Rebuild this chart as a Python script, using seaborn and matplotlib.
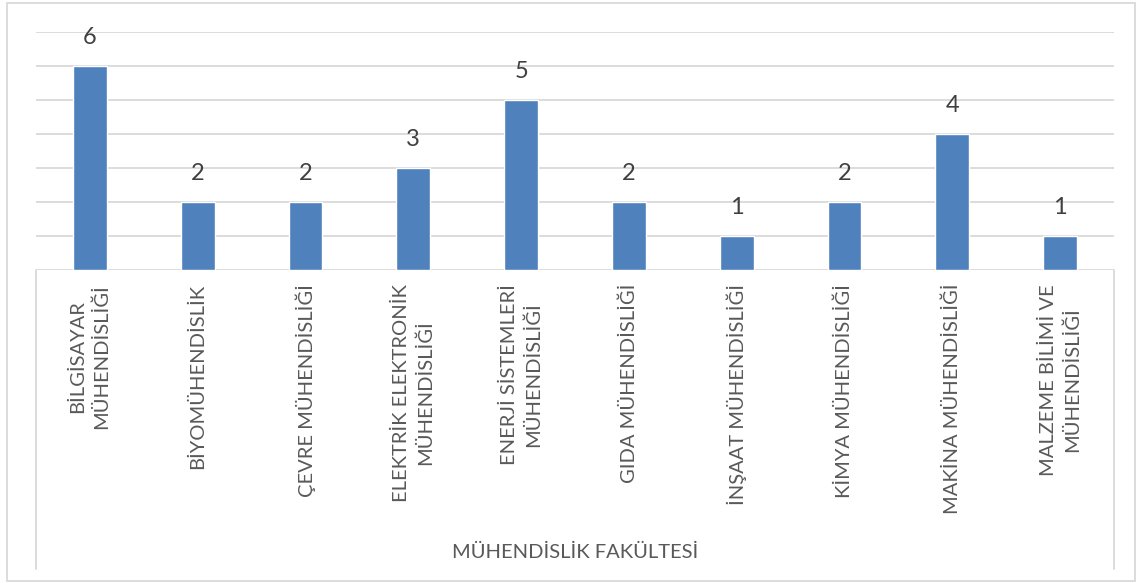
import numpy as np
import pandas as pd
import seaborn as sns
import matplotlib.pyplot as plt
from matplotlib.patches import Rectangle
from matplotlib.lines import Line2D

# data
categories = ['BİLGİSAYAR\nMÜHENDİSLİĞİ', 'BİYOMÜHENDİSLİK', 'ÇEVRE MÜHENDİSLİĞİ',
              'ELEKTRİK ELEKTRONİK\nMÜHENDİSLİĞİ', 'ENERJİ SİSTEMLERİ\nMÜHENDİSLİĞİ',
              'GIDA MÜHENDİSLİĞİ', 'İNŞAAT MÜHENDİSLİĞİ', 'KİMYA MÜHENDİSLİĞİ',
              'MAKİNA MÜHENDİSLİĞİ', 'MALZEME BİLİMİ VE\nMÜHENDİSLİĞİ']
counts = [6, 2, 2, 3, 5, 2, 1, 2, 4, 1]
group_label = 'MÜHENDİSLİK FAKÜLTESİ'

df = pd.DataFrame({'bolum': categories, 'sayi': counts})

sns.set_style('white')
plt.rcParams['font.family'] = ['Lato', 'DejaVu Sans']

W, H = 1136, 583
fig = plt.figure(figsize=(W / 100, H / 100), dpi=100)
# axes placed in pixel terms: x 36..1114, y 32..270
ax = fig.add_axes([36 / W, (H - 270) / H, (1114 - 36) / W, (270 - 32) / H])

grid_c = '#D9D9D9'
text_c = '#595959'

sns.barplot(data=df, x='bolum', y='sayi', color='#4F81BD', width=0.315,
            saturation=1, ax=ax, zorder=3)

ax.set_ylim(0, 7)
ax.set_yticks(range(0, 8))
ax.yaxis.grid(True, color=grid_c, linewidth=1.3, zorder=0)
ax.tick_params(left=False, labelleft=False, bottom=False, labelbottom=False)
for s in ax.spines.values():
    s.set_visible(False)
ax.set_xlabel('')
ax.set_ylabel('')

# value labels
for i, v in enumerate(counts):
    ax.annotate(str(v), xy=(i, v), xytext=(0, 18), textcoords='offset pixels',
                ha='center', va='bottom', fontsize=17, color='#404040')

# category labels, rotated
for i, c in enumerate(categories):
    ax.annotate(c, xy=(i, 0), xytext=(0, -14), textcoords='offset pixels',
                rotation=90, ha='center', va='top', multialignment='center',
                linespacing=1.45, fontsize=14.5, color=text_c,
                annotation_clip=False)

# category box lines
for xp in (36, 1114):
    fig.add_artist(Line2D([xp / W, xp / W], [(H - 270) / H, (H - 569) / H],
                          color=grid_c, linewidth=1.3))

fig.text(575 / W, (H - 552) / H, group_label, ha='center', va='center',
         fontsize=14.5, color=text_c)

# outer chart border
fig.add_artist(Rectangle((7 / W, (H - 581) / H), (1135 - 7) / W, (581 - 3) / H,
                         transform=fig.transFigure, fill=False,
                         edgecolor=grid_c, linewidth=1.3))

fig.savefig('out.png', dpi=100)
